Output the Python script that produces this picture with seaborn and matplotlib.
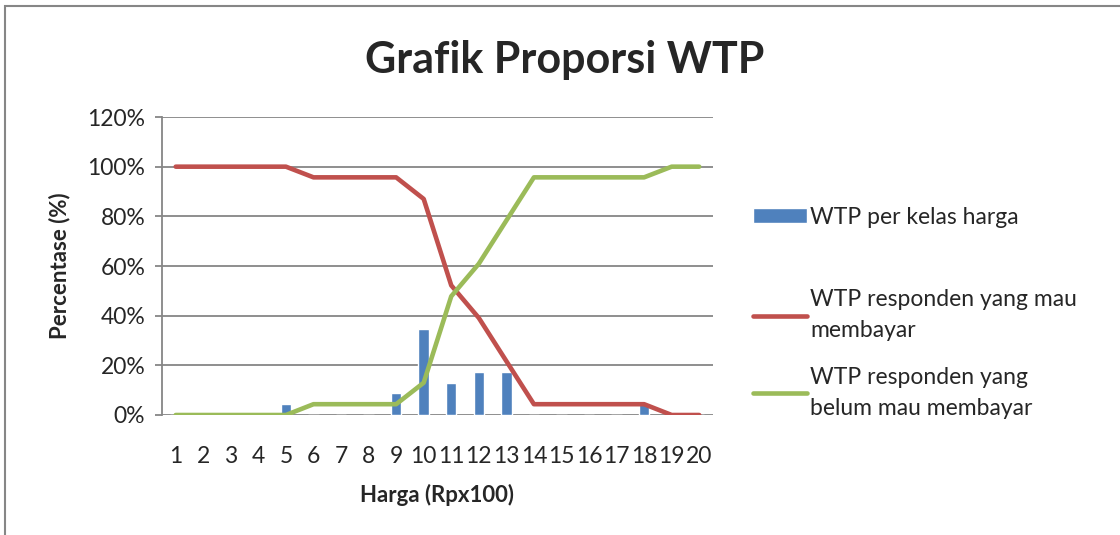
import numpy as np
import pandas as pd
import matplotlib
matplotlib.use("Agg")
import matplotlib.pyplot as plt
import seaborn as sns
from matplotlib.patches import Rectangle

# === Data ===
harga = [str(i) for i in range(1, 21)]
wtp_kelas = [0, 0, 0, 0, 0.0435, 0, 0, 0, 0.087, 0.348,
             0.130, 0.174, 0.174, 0, 0, 0, 0, 0.0435, 0, 0]
wtp_mau = [1.0, 1.0, 1.0, 1.0, 1.0, 0.957, 0.957, 0.957, 0.957, 0.870,
           0.522, 0.391, 0.217, 0.0435, 0.0435, 0.0435, 0.0435, 0.0435, 0, 0]
wtp_belum = [0, 0, 0, 0, 0, 0.0435, 0.0435, 0.0435, 0.0435, 0.130,
             0.478, 0.609, 0.783, 0.957, 0.957, 0.957, 0.957, 0.957, 1.0, 1.0]

df = pd.DataFrame({"harga": harga, "pos": np.arange(len(harga)),
                   "kelas": wtp_kelas, "mau": wtp_mau, "belum": wtp_belum})

sns.set_style("white")
plt.rcParams["font.family"] = ["Lato", "DejaVu Sans"]

fig = plt.figure(figsize=(11.2, 5.35), dpi=100)
ax = fig.add_axes([0.1446, 0.2243, 0.4920, 0.5570])

# chart area border (cut off on right / bottom like the screenshot)
fig.patches.append(Rectangle((5 / 1120, -0.1), 1.2, 1 - 6 / 535 + 0.1,
                             transform=fig.transFigure, fill=False,
                             edgecolor="#868686", linewidth=1.5))

sns.barplot(data=df, x="harga", y="kelas", order=harga, color="#4F81BD",
            width=0.38, saturation=1, ax=ax, label="WTP per kelas harga", zorder=2)
sns.lineplot(data=df, x="pos", y="mau", color="#C0504D", linewidth=3.3, ax=ax,
             label="WTP responden yang mau\nmembayar", zorder=3)
sns.lineplot(data=df, x="pos", y="belum", color="#9BBB59", linewidth=3.3, ax=ax,
             label="WTP responden yang\nbelum mau membayar", zorder=4)

ax.set_xlim(-0.5, 19.5)
ax.set_ylim(0, 1.2)
yt = np.arange(0, 1.21, 0.2)
ax.set_yticks(yt)
ax.set_yticklabels([f"{int(round(v * 100))}%" for v in yt])
ax.yaxis.grid(True, color="#868686", linewidth=1.3)
ax.set_axisbelow(True)
for s in ["top", "right", "bottom"]:
    ax.spines[s].set_visible(False)
ax.spines["left"].set_color("#868686")
ax.spines["left"].set_linewidth(1.3)
ax.tick_params(axis="y", which="both", left=True, length=5, width=1.3,
               color="#868686", labelsize=16.5, pad=7)
ax.tick_params(axis="x", bottom=False, labelsize=16.5, pad=19)

ax.set_xlabel("Harga (Rpx100)", fontsize=16, fontweight="bold", labelpad=12)
ax.set_ylabel("Percentase (%)", fontsize=16, fontweight="bold", labelpad=12)
fig.text(0.504, 0.888, "Grafik Proporsi WTP", ha="center", va="center",
         fontsize=31, fontweight="bold")

h, l = ax.get_legend_handles_labels()
ax.get_legend().remove()
bar_i = l.index("WTP per kelas harga")
leg1 = fig.legend([h[bar_i]], [l[bar_i]], loc="center left",
                  bbox_to_anchor=(0.654, 1 - 217 / 535), frameon=False,
                  fontsize=16.5, handlelength=2.35, handleheight=0.6,
                  handletextpad=0.15)
rest = [i for i in range(len(h)) if i != bar_i]
leg2 = fig.legend([h[i] for i in rest], [l[i] for i in rest], loc="center left",
                  bbox_to_anchor=(0.654, 1 - 354 / 535), frameon=False,
                  fontsize=16.5, handlelength=2.35, handletextpad=0.15,
                  labelspacing=1.15)
for t in leg2.get_texts():
    t.set_linespacing(1.55)

fig.savefig("out.png", dpi=100)
